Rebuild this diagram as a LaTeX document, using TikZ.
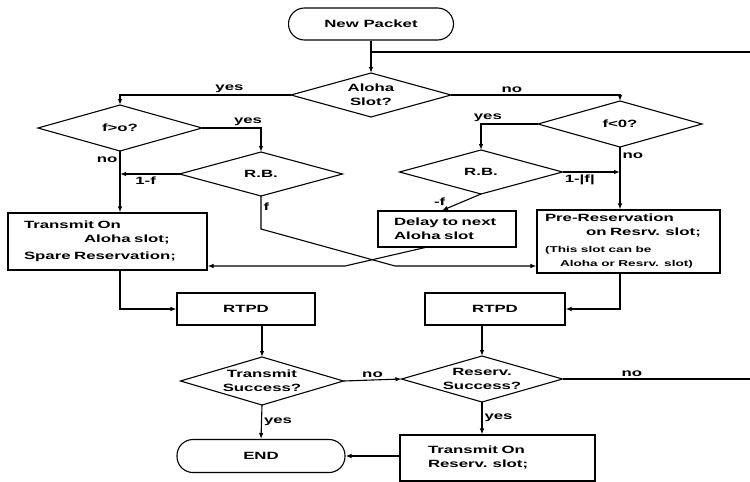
\documentclass[tikz,border=0pt]{standalone}
\usepackage{fontspec}
\setmainfont{Liberation Sans}[FakeStretch=1.6]
\usepackage{tikz}
\usetikzlibrary{positioning,arrows.meta,calc,shapes.geometric}
\newcommand\smallf{\fontsize{8.5}{11}\selectfont}
\tikzset{
  blk/.style  ={draw, line width=1.1pt, align=left, inner ysep=0pt, minimum height=8mm},
  term/.style ={draw, line width=1.1pt, rounded corners=16pt, minimum height=32pt, align=center},
  dia/.style  ={draw, diamond, line width=1.1pt, inner sep=0pt, outer sep=0pt},
  dtxt/.style ={align=center, inner sep=0pt},
  ar/.style   ={-{Latex[length=6pt,width=4.5pt]}, line width=1.1pt},
  ln/.style   ={line width=1.1pt},
  lbl/.style  ={inner sep=2pt},
}
\begin{document}
\begin{tikzpicture}[x=1pt,y=-1pt,font=\fontsize{10.5}{14}\selectfont\bfseries]
\useasboundingbox (0,0) rectangle (750,482);

\node[term,minimum width=165pt] (newp) at (371,24) {New Packet};
\node[dia,minimum width=160pt,minimum height=44pt,label={[dtxt]center:{Aloha\\Slot?}}] (aloha) at (371,95) {};

\node[dia,minimum width=164pt,minimum height=46pt,label={[dtxt]center:{f>o?}}] (fpos) at (120,128) {};
\node[dia,minimum width=163pt,minimum height=44pt,label={[dtxt]center:{R.B.}}] (rbl) at (261,174) {};
\node[dia,minimum width=164pt,minimum height=46pt,label={[dtxt]center:{f<0?}}] (fneg) at (620,124) {};
\node[dia,minimum width=163pt,minimum height=44pt,label={[dtxt]center:{R.B.}}] (rbr) at (481,172) {};

\node[blk,text width=167pt,inner xsep=16pt,minimum height=57pt] (txa) at (107.5,241.5)
  {Transmit On\\\hspace*{60pt}Aloha slot;\\[3pt]Spare Reservation;};
\node[blk,text width=106pt,inner xsep=16pt,minimum height=36pt] (delay) at (447,229)
  {Delay to next\\Aloha slot};
\node[blk,text width=167pt,inner xsep=8pt,minimum height=63pt] (prer) at (628.5,241.5)
  {Pre-Reservation\\\hspace*{41pt}on Resrv. slot;\\[3pt]{\smallf (This slot can be}\\{\smallf\hspace*{15pt}Aloha or Resrv. slot)}};

\node[blk,text width=106pt,inner xsep=16pt,minimum height=32pt,align=center] (rtl) at (246,309) {RTPD};
\node[blk,text width=108pt,inner xsep=16pt,minimum height=32pt,align=center] (rtr) at (495,309) {RTPD};

\node[dia,minimum width=163pt,minimum height=48pt,label={[dtxt]center:{Transmit\\Success?}}] (ts) at (262,381) {};
\node[dia,minimum width=161pt,minimum height=46pt,label={[dtxt]center:{Reserv.\\Success?}}] (rs) at (482,379) {};

\node[term,minimum width=168pt,minimum height=33pt] (endn) at (261,456) {END};
\node[blk,text width=139pt,inner xsep=28pt,minimum height=46pt] (txr) at (497.5,458)
  {Transmit On\\Reserv. slot;};

\coordinate (fbR) at (750,52);
\coordinate (fbB) at (750,378);
\coordinate (fk) at (261,229);
\coordinate (fx) at (395,266);
\coordinate (dk) at (345,266);

\draw[ar] (newp) -- (aloha);
\draw[ln] (fbR) -- (fbR -| newp.south);
\draw[ar] (aloha.west) -| node[lbl,above,pos=0.18]{yes} (fpos.north);
\draw[ar] (aloha.east) -| node[lbl,above,pos=0.18]{no} (fneg.north);
\draw[ar] (fpos.east) -| node[lbl,above,pos=0.39]{yes} (rbl.north);
\draw[ar] (fneg.west) -| node[lbl,above,pos=0.44]{yes} (rbr.north);
\draw[ar] (fpos.south) -- node[lbl,left,pos=0.15]{no} (fpos.south |- txa.north);
\draw[ar] (rbl.west) -- node[lbl,below,pos=0.57]{1-f} (rbl.west -| fpos.south);
\draw[ar] (rbl.south) -- node[lbl,right,pos=0.33]{f} (fk) -- (fx) -- (fx -| prer.west);
\draw[ar] (fneg.south) -- node[lbl,right,pos=0.14]{no} (fneg.south |- prer.north);
\draw[ar] (rbr.east) -- node[lbl,below,pos=0.3]{1-|f|} (rbr.east -| fneg.south);
\draw[ar] (rbr.south) -- node[lbl,above left,pos=0.85]{-f} ([xshift=-5pt]delay.north);
\draw[ar] ([xshift=-22pt]delay.south) -- (dk) -- (dk -| txa.east);
\draw[ar] (fpos.south |- txa.south) |- (rtl.west);
\draw[ar] (fneg.south |- prer.south) |- (rtr.east);
\draw[ar] (ts.north |- rtl.south) -- (ts.north);
\draw[ar] (rs.north |- rtr.south) -- (rs.north);
\draw[ar] (ts.east) -- node[lbl,above]{no} (rs.west);
\draw[ln] (rs.east) -- node[lbl,above,pos=0.37]{no} (rs.east -| fbB);
\draw[ar] (ts.south) -- node[lbl,right]{yes} (endn.north);
\draw[ar] (rs.south) -- node[lbl,right]{yes} (rs.south |- txr.north);
\draw[ar] (txr.west |- endn.east) -- (endn.east);
\end{tikzpicture}
\end{document}
